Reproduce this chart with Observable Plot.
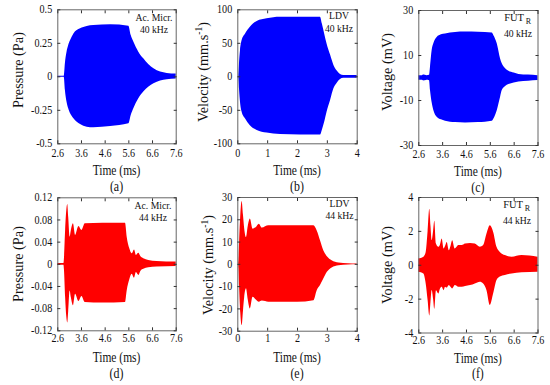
<!DOCTYPE html>
<html><head><meta charset="utf-8">
<script src="https://cdn.jsdelivr.net/npm/d3@7"></script>
<script src="https://cdn.jsdelivr.net/npm/@observablehq/plot@0.6"></script>
<style>
html,body{margin:0;padding:0;background:#fff;}
#chart{position:relative;width:550px;height:385px;overflow:hidden;}
#chart svg{position:absolute;overflow:visible;}
</style></head><body><div id="chart"></div>
<script>
// ---- tick values ----
const timeTicksLong = [2.6, 3.6, 4.6, 5.6, 6.6, 7.6];
const timeTicksShort = [0, 1, 2, 3, 4];
const yTicksA = [-0.5, -0.25, 0, 0.25, 0.5];
const yTicksB = [-100, -50, 0, 50, 100];
const yTicksC = [-30, -10, 10, 30];
const yTicksD = [-0.12, -0.08, -0.04, 0, 0.04, 0.08, 0.12];
const yTicksE = [-30, -20, -10, 0, 10, 20, 30];
const yTicksF = [-4, -2, 0, 2, 4];

// ---- signal envelopes (time in ms, upper / lower envelope) ----
// (a) Ac. Micr. 40 kHz, Pa
const aT  = [2.6, 2.87, 2.88, 2.92, 2.99, 3.06, 3.14, 3.28, 3.56, 3.84, 4.12, 4.83, 5.6, 5.7, 5.81, 6.02, 6.23, 6.45, 6.66, 6.94, 7.22, 7.6];
const aHi = [0.004, 0.004, 0.01, 0.097, 0.184, 0.234, 0.271, 0.32, 0.358, 0.376, 0.383, 0.388, 0.378, 0.308, 0.259, 0.184, 0.134, 0.09, 0.06, 0.035, 0.025, 0.02];
const aLo = [-0.004, -0.004, -0.01, -0.1, -0.19, -0.239, -0.276, -0.313, -0.356, -0.376, -0.38, -0.371, -0.351, -0.289, -0.239, -0.164, -0.114, -0.077, -0.052, -0.032, -0.022, -0.017];
// (b) LDV 40 kHz, mm/s
const bT  = [0.03, 0.035, 0.056, 0.09, 0.145, 0.26, 0.42, 0.65, 0.98, 1.43, 2.77, 2.83, 2.91, 2.99, 3.11, 3.22, 3.33, 3.44, 3.55, 4.0];
const bHi = [0.5, 1, 19.4, 39, 54, 64, 74, 82.6, 86.6, 89, 89, 79, 64, 49, 32, 17, 8.5, 3.5, 2, 2];
const bLo = [-0.5, -1, -18, -38, -53, -63, -73, -80, -84, -86, -87, -80, -68, -53, -35, -18, -9.5, -4, -2, -2];
// (c) FUT_R 40 kHz, mV
const cT  = [2.6, 2.75, 2.8, 2.87, 2.95, 3.05, 3.09, 3.16, 3.23, 3.37, 3.55, 3.72, 4.14, 4.56, 5.1, 5.68, 5.75, 5.89, 6.03, 6.1, 6.24, 6.38, 6.6, 6.8, 7.2, 7.6];
const cHi = [1.0, 1.0, 1.3, 1.25, 1.0, 1.2, 4.8, 12.2, 15.2, 18, 19.2, 19.6, 20.2, 20.4, 20.3, 20, 18.8, 15.2, 8.5, 6.3, 4.1, 3.0, 2.2, 1.6, 1.3, 1.0];
const cLo = [-1.0, -1.0, -1.3, -1.25, -1.0, -1.2, -5.5, -11, -14.4, -17.4, -18.6, -19.2, -19.8, -20, -19.8, -19.2, -18.2, -14.5, -8.5, -5.6, -3.8, -2.9, -2.2, -1.8, -1.4, -1.1];
// (d) Ac. Micr. 44 kHz, Pa
const dT  = [2.6, 2.86, 2.88, 2.93, 2.98, 3.02, 3.06, 3.12, 3.17, 3.26, 3.35, 3.49, 3.62, 3.76, 4.5, 5.46, 5.53, 5.64, 5.74, 5.84, 5.92, 6.02, 6.12, 6.23, 6.44, 6.79, 7.6];
const dHi = [0.0015, 0.0015, 0.01, 0.061, 0.097, 0.108, 0.085, 0.049, 0.06, 0.073, 0.052, 0.068, 0.061, 0.073, 0.074, 0.074, 0.049, 0.028, 0.019, 0.026, 0.016, 0.02, 0.013, 0.01, 0.007, 0.005, 0.004];
const dLo = [-0.0015, -0.0015, -0.01, -0.06, -0.095, -0.106, -0.085, -0.048, -0.06, -0.075, -0.054, -0.067, -0.058, -0.069, -0.07, -0.069, -0.048, -0.028, -0.018, -0.025, -0.015, -0.02, -0.012, -0.009, -0.006, -0.005, -0.004];
// (e) LDV 44 kHz, mm/s
const eT  = [0.03, 0.04, 0.06, 0.1, 0.145, 0.19, 0.23, 0.29, 0.35, 0.42, 0.51, 0.62, 0.72, 0.82, 1.04, 2.0, 2.55, 2.66, 2.77, 2.88, 3.0, 3.16, 3.39, 3.7, 4.0];
const eHi = [0.5, 2, 10, 22, 28.2, 22, 16, 12, 17, 20.3, 15.8, 16.5, 18, 16.3, 17.3, 17.3, 17.3, 15, 10.6, 6.1, 3.4, 1.6, 0.6, 0.25, 0.15];
const eLo = [-0.5, -2, -10, -22, -27.5, -21, -15, -11, -16, -20, -14.8, -16, -17, -16.5, -17, -17, -16.3, -11.8, -9.5, -6.6, -3.6, -1.6, -0.6, -0.25, -0.15];
// (f) FUT_R 44 kHz, mV
const fT  = [2.6, 2.81, 2.91, 2.99, 3.06, 3.11, 3.16, 3.22, 3.27, 3.34, 3.44, 3.51, 3.58, 3.66, 3.72, 3.79, 3.88, 3.95, 4.02, 4.13, 4.28, 4.42, 4.56, 4.77, 4.97, 5.18, 5.32, 5.46, 5.6, 5.74, 5.88, 6.02, 6.23, 6.51, 6.93, 7.6];
const fHi = [0.37, 0.47, 0.76, 2.0, 3.3, 2.3, 1.45, 2.0, 2.6, 1.25, 1.06, 1.2, 1.55, 0.96, 1.1, 1.35, 0.86, 1.1, 1.45, 0.96, 1.16, 1.16, 1.25, 1.29, 1.25, 1.06, 1.16, 1.84, 2.33, 1.94, 1.06, 0.76, 0.57, 0.47, 0.57, 0.47];
const fLo = [-0.41, -0.51, -1.1, -2.08, -3.0, -2.2, -1.49, -2.0, -2.6, -1.5, -1.7, -1.4, -1.3, -1.5, -1.3, -1.35, -1.2, -1.3, -1.4, -1.2, -1.3, -1.3, -1.25, -1.2, -1.1, -1.0, -1.1, -1.5, -2.37, -1.69, -0.9, -0.7, -0.6, -0.51, -0.45, -0.41];

// ---- text ----
const panelLetters = ["(a)", "(b)", "(c)", "(d)", "(e)", "(f)"];
const sensorNames = ["Ac. Micr.", "LDV", "FUT", "Ac. Micr.", "LDV", "FUT"];
const sensorSubs = ["", "", "R", "", "", "R"];
const freqLabels = ["40 kHz", "40 kHz", "40 kHz", "44 kHz", "44 kHz", "44 kHz"];
const xLabel = "Time (ms)";

const FONT = '"Liberation Serif", "Times New Roman", serif';
const BLUE = "#0000ff", RED = "#ff0000";
const INK = "#111";

// layout (page px): svg box and frame box
const panels = [
  {t:aT, hi:aHi, lo:aLo, xd:[2.6,7.6], xt:timeTicksLong, yd:[-0.5,0.5], yt:yTicksA, color:BLUE,
   box:[0,0,180,192], fl:57.3, fr:175.7, ft:9.3, fb:143.3, yl:"Pressure (Pa)", ylx:18.3, yly:70,
   ax:154, ay1:16.7, ay2:29.3, tickY:152.5, labY:170.5, letY:186},
  {t:bT, hi:bHi, lo:bLo, xd:[0,4], xt:timeTicksShort, yd:[-100,100], yt:yTicksB, color:BLUE,
   box:[180,0,182,192], fl:237.3, fr:356.7, ft:9.3, fb:143.3, yl:"vel", ylx:202.7, yly:72,
   ax:339, ay1:15, ay2:28.3, tickY:152.5, labY:170.5, letY:186},
  {t:cT, hi:cHi, lo:cLo, xd:[2.6,7.6], xt:timeTicksLong, yd:[-30,30], yt:yTicksC, color:BLUE,
   box:[362,0,188,192], fl:418.3, fr:537.5, ft:10, fb:145, yl:"Voltage (mV)", ylx:386.7, yly:72,
   ax:518, ay1:17, ay2:33.3, tickY:153.5, labY:171.5, letY:187},
  {t:dT, hi:dHi, lo:dLo, xd:[2.6,7.6], xt:timeTicksLong, yd:[-0.12,0.12], yt:yTicksD, color:RED,
   box:[0,190,180,195], fl:57.3, fr:175.7, ft:197.3, fb:330.3, yl:"Pressure (Pa)", ylx:18.3, yly:264,
   ax:153, ay1:205, ay2:216.7, tickY:337.5, labY:357.5, letY:373},
  {t:eT, hi:eHi, lo:eLo, xd:[0,4], xt:timeTicksShort, yd:[-30,30], yt:yTicksE, color:RED,
   box:[180,190,182,195], fl:237.3, fr:356.7, ft:197, fb:330.7, yl:"vel", ylx:208, yly:265,
   ax:339.5, ay1:203.3, ay2:215, tickY:337.5, labY:357.5, letY:373},
  {t:fT, hi:fHi, lo:fLo, xd:[2.6,7.6], xt:timeTicksLong, yd:[-4,4], yt:yTicksF, color:RED,
   box:[362,190,188,195], fl:418.3, fr:537.5, ft:197, fb:332.5, yl:"Voltage (mV)", ylx:386.7, yly:265,
   ax:517, ay1:204, ay2:220, tickY:339, labY:358.5, letY:373.5}
];

const chart = document.getElementById("chart");
const fmt = d => String(d);

function squash(node, k) {
  const L = node.getComputedTextLength();
  if (L > 0) {
    node.setAttribute("textLength", (L * k).toFixed(2));
    node.setAttribute("lengthAdjust", "spacingAndGlyphs");
  }
  return L * k;
}

panels.forEach((p, i) => {
  const [bx, by, bw, bh] = p.box;
  const data = p.t.map((t, k) => ({t, hi: p.hi[k], lo: p.lo[k]}));
  const fb = p.fb - by, ft = p.ft - by, fl = p.fl - bx, fr = p.fr - bx;
  const tickGap = (p.tickY - p.fb) - 3.9;
  const svg = Plot.plot({
    width: bw, height: bh,
    marginLeft: fl, marginRight: bw - fr, marginTop: ft, marginBottom: bh - fb,
    style: {fontFamily: FONT, fontSize: "11.5px", color: INK, background: "none", overflow: "visible"},
    x: {domain: p.xd},
    y: {domain: p.yd},
    marks: [
      Plot.areaY(data, {x: "t", y1: "lo", y2: "hi", fill: p.color, curve: "monotone-x"}),
      Plot.frame({stroke: "#666"}),
      Plot.axisX({ticks: p.xt, anchor: "bottom", tickSize: -3, tickPadding: tickGap + 3, tickFormat: fmt, label: null, stroke: "#333"}),
      Plot.axisX({ticks: p.xt, anchor: "top", tickSize: -3, tickFormat: () => "", label: null, stroke: "#333"}),
      Plot.axisY({ticks: p.yt, anchor: "left", tickSize: -3, tickPadding: 8.6, tickFormat: fmt, label: null, stroke: "#333"}),
      Plot.axisY({ticks: p.yt, anchor: "right", tickSize: -3, tickFormat: () => "", label: null, stroke: "#333"})
    ]
  });
  svg.style.left = bx + "px";
  svg.style.top = by + "px";
  chart.appendChild(svg);

  const s = d3.select(svg);
  // squash Plot's tick labels slightly (narrow type as in the reference)
  s.selectAll("text").each(function () { squash(this, 0.88); });

  const addText = (x, y, size, anchor = "middle") => s.append("text")
    .attr("x", x - bx).attr("y", y - by)
    .attr("dy", "0.35em")
    .attr("text-anchor", anchor)
    .attr("font-family", FONT)
    .attr("font-size", size)
    .attr("fill", INK);
  const cx = (p.fl + p.fr) / 2;
  squash(addText(cx, p.labY, 14).text(xLabel).node(), 0.82);
  squash(addText(cx, p.letY, 14).text(panelLetters[i]).node(), 0.85);

  // sensor annotation
  if (sensorSubs[i]) {
    addText(p.ax + 6, p.ay1, 10.5, "end").text(sensorNames[i]);
    addText(p.ax + 7.8, p.ay1 + 4.5, 8, "start").text(sensorSubs[i]);
  } else {
    squash(addText(p.ax, p.ay1, 11).text(sensorNames[i]).node(), 0.88);
  }
  squash(addText(p.ax, p.ay2, 11).text(freqLabels[i]).node(), 0.88);

  // y label
  const yl = s.append("text")
    .attr("transform", `translate(${p.ylx - bx},${p.yly - by}) rotate(-90)`)
    .attr("dy", "0.35em")
    .attr("text-anchor", "middle")
    .attr("font-family", FONT)
    .attr("font-size", 14.3)
    .attr("fill", INK);
  if (p.yl === "vel") {
    yl.append("tspan").text("Velocity (mm.s");
    yl.append("tspan").attr("font-size", 9.5).attr("dy", -5.5).text("-1");
    yl.append("tspan").attr("dy", 5.5).text(")");
  } else {
    yl.text(p.yl);
  }
});
</script>
</body></html>
